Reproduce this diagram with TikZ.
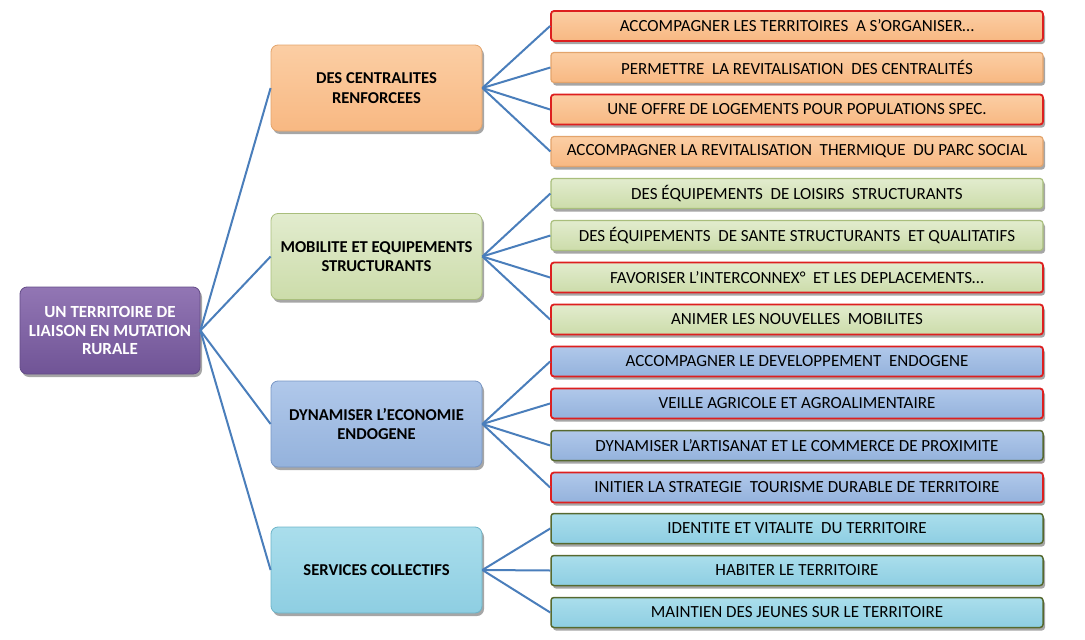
\documentclass[tikz,border=0pt]{standalone}
\usepackage{fontspec}
\setmainfont{Carlito}
\usetikzlibrary{shadows}
\definecolor{conn}{HTML}{4A7EBB}
\definecolor{redb}{HTML}{DD1F1F}
\definecolor{peachb}{HTML}{E3A46C}
\definecolor{greenb}{HTML}{A9BE7C}
\definecolor{dgreenb}{HTML}{56692F}
\tikzset{
  x=1pt, y=-1pt,
  base/.style={rectangle, inner sep=2pt, align=center, text=black,
    drop shadow={shadow xshift=2pt, shadow yshift=-3pt, opacity=0.35, fill=black}},
  rootbox/.style={base, rounded corners=7pt, minimum width=180pt, minimum height=87pt,
    top color={rgb,255:red,146;green,118;blue,180}, bottom color={rgb,255:red,112;green,84;blue,150},
    draw={rgb,255:red,100;green,76;blue,135}, line width=0.8pt, text=white,
    font=\bfseries\fontsize{17}{18.5}\selectfont},
  midbox/.style={base, rounded corners=7pt, minimum width=211pt, minimum height=86pt,
    line width=0.8pt, font=\bfseries\fontsize{16.6}{19.5}\selectfont},
  leafbox/.style={base, rounded corners=3pt, minimum width=492pt, minimum height=30pt,
    line width=1.2pt, font=\fontsize{17}{19}\selectfont},
  peach/.style={top color={rgb,255:red,251;green,206;blue,164}, bottom color={rgb,255:red,248;green,184;blue,130}},
  green/.style={top color={rgb,255:red,226;green,236;blue,206}, bottom color={rgb,255:red,204;green,220;blue,170}},
  blue/.style={top color={rgb,255:red,176;green,200;blue,234}, bottom color={rgb,255:red,148;green,178;blue,220}},
  cyan/.style={top color={rgb,255:red,170;green,222;blue,236}, bottom color={rgb,255:red,142;green,206;blue,226}},
  rb/.style={draw=redb, line width=1.8pt},
  pb/.style={draw=peachb},
  gb/.style={draw=greenb},
  db/.style={draw=dgreenb, line width=1.5pt},
  link/.style={draw=conn, line width=2pt}
}
\begin{document}
\begin{tikzpicture}
\useasboundingbox (0,0) rectangle (1085,640);
\node[rootbox] (root) at (110,330.5) {UN TERRITOIRE DE\\LIAISON EN MUTATION\\RURALE};

\node[midbox, peach, draw=peachb] (m1) at (376.5,88) {DES CENTRALITES\\RENFORCEES};
\node[midbox, green, draw=greenb] (m2) at (376.5,256.5) {MOBILITE ET EQUIPEMENTS\\STRUCTURANTS};
\node[midbox, blue, draw={rgb,255:red,120;green,150;blue,196}] (m3) at (376.5,424) {DYNAMISER L’ECONOMIE\\ENDOGENE};
\node[midbox, cyan, draw={rgb,255:red,110;green,180;blue,200}] (m4) at (376.5,570) {SERVICES COLLECTIFS};

\node[leafbox, peach, rb] (l1) at (797,26) {ACCOMPAGNER LES TERRITOIRES \ A S’ORGANISER…};
\node[leafbox, peach, pb] (l2) at (797,67.5) {PERMETTRE \ LA REVITALISATION \ DES CENTRALITÉS};
\node[leafbox, peach, rb] (l3) at (797,109.5) {UNE OFFRE DE LOGEMENTS POUR POPULATIONS SPEC.};
\node[leafbox, peach, pb] (l4) at (797,151.5) {ACCOMPAGNER LA REVITALISATION \ THERMIQUE \ DU PARC SOCIAL};

\node[leafbox, green, gb] (l5) at (797,193.5) {DES ÉQUIPEMENTS \ DE LOISIRS \ STRUCTURANTS};
\node[leafbox, green, gb] (l6) at (797,235.5) {DES ÉQUIPEMENTS \ DE SANTE STRUCTURANTS \ ET QUALITATIFS};
\node[leafbox, green, rb] (l7) at (797,277.5) {FAVORISER L’INTERCONNEX° \ ET LES DEPLACEMENTS…};
\node[leafbox, green, rb] (l8) at (797,319.5) {ANIMER LES NOUVELLES \ MOBILITES};

\node[leafbox, blue, rb] (l9) at (797,361.5) {ACCOMPAGNER LE DEVELOPPEMENT \ ENDOGENE};
\node[leafbox, blue, rb] (l10) at (797,403.5) {VEILLE AGRICOLE ET AGROALIMENTAIRE};
\node[leafbox, blue, db] (l11) at (797,445.5) {DYNAMISER L'ARTISANAT ET LE COMMERCE DE PROXIMITE};
\node[leafbox, blue, rb] (l12) at (797,487.5) {INITIER LA STRATEGIE \ TOURISME DURABLE DE TERRITOIRE};

\node[leafbox, cyan, db] (l13) at (797,528.5) {IDENTITE ET VITALITE \ DU TERRITOIRE};
\node[leafbox, cyan, db] (l14) at (797,570.5) {HABITER LE TERRITOIRE};
\node[leafbox, cyan, db] (l15) at (797,612.5) {MAINTIEN DES JEUNES SUR LE TERRITOIRE};

\foreach \m in {m1,m2,m3,m4} \draw[link] (root.east) -- (\m.west);
\foreach \l in {l1,l2,l3,l4} \draw[link] (m1.east) -- (\l.west);
\foreach \l in {l5,l6,l7,l8} \draw[link] (m2.east) -- (\l.west);
\foreach \l in {l9,l10,l11,l12} \draw[link] (m3.east) -- (\l.west);
\foreach \l in {l13,l14,l15} \draw[link] (m4.east) -- (\l.west);
\end{tikzpicture}
\end{document}
